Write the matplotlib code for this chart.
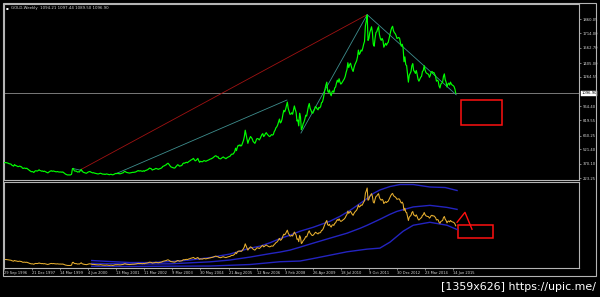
import numpy as np
import matplotlib
matplotlib.use("Agg")
import matplotlib.pyplot as plt
from matplotlib.patches import Rectangle
import matplotlib.transforms as mtransforms

# ---- data (bar index = week, one value every 2 bars) ----
BAR_STEP = 2
gold_close = [
    380, 381, 382, 380, 378, 374, 370, 368, 366, 355, 350, 345, 362, 352, 350, 345,
    340, 343, 346, 340, 338, 325, 322, 326, 324, 320, 324, 315, 310, 300, 296, 288,
    290, 287, 280, 292, 298, 296, 295, 300, 308, 300, 298, 293, 296, 290, 294, 289,
    285, 280, 276, 283, 290, 295, 298, 292, 296, 293, 290, 288, 287, 290, 286, 285,
    284, 286, 282, 286, 278, 272, 264, 260, 256, 254, 256, 254, 256, 262, 318, 322,
    300, 293, 296, 290, 284, 288, 285, 300, 312, 292, 286, 280, 278, 274, 272, 278,
    285, 288, 290, 284, 280, 276, 278, 274, 272, 270, 268, 265, 266, 270, 272, 268,
    265, 262, 264, 260, 262, 265, 263, 260, 257, 260, 262, 258, 256, 260, 264, 270,
    268, 272, 268, 270, 266, 268, 272, 275, 278, 288, 292, 284, 280, 278, 276, 274,
    276, 278, 280, 282, 281, 284, 285, 290, 296, 300, 294, 298, 296, 293, 292, 298,
    292, 300, 302, 306, 310, 318, 325, 322, 318, 305, 310, 312, 316, 322, 320, 316,
    312, 318, 320, 324, 330, 342, 346, 350, 356, 360, 370, 375, 365, 352, 340, 335,
    332, 330, 325, 328, 340, 350, 360, 355, 345, 348, 350, 356, 372, 378, 375, 382,
    385, 380, 388, 395, 400, 408, 412, 418, 425, 410, 400, 405, 415, 425, 400, 385,
    395, 392, 390, 396, 402, 400, 395, 400, 404, 408, 412, 418, 420, 425, 430, 438,
    445, 452, 450, 440, 442, 425, 422, 420, 428, 435, 440, 432, 428, 422, 430, 436,
    440, 445, 450, 465, 470, 468, 480, 495, 530, 505, 540, 560, 555, 565, 552, 560,
    585, 610, 650, 715, 670, 625, 580, 610, 630, 650, 640, 625, 600, 590, 580, 600,
    625, 630, 625, 615, 630, 650, 670, 680, 650, 660, 680, 690, 675, 665, 655, 650,
    660, 670, 665, 670, 700, 715, 740, 750, 770, 800, 830, 790, 800, 830, 880, 920,
    905, 930, 970, 1005, 940, 910, 880, 880, 895, 880, 920, 965, 930, 900, 810, 820,
    760, 890, 850, 720, 740, 780, 800, 830, 870, 860, 910, 960, 990, 940, 920, 895,
    890, 910, 930, 960, 950, 935, 925, 950, 945, 960, 1000, 1005, 1040, 1090, 1140, 1180,
    1210, 1120, 1105, 1130, 1090, 1070, 1110, 1120, 1105, 1150, 1160, 1200, 1230, 1210, 1245, 1210,
    1190, 1200, 1215, 1230, 1245, 1270, 1310, 1340, 1410, 1360, 1390, 1405, 1370, 1340, 1320, 1360,
    1390, 1410, 1430, 1470, 1540, 1495, 1510, 1540, 1530, 1560, 1600, 1630, 1790, 1840, 1900, 1640,
    1660, 1720, 1750, 1780, 1720, 1600, 1580, 1660, 1720, 1730, 1760, 1780, 1700, 1660, 1640, 1660,
    1640, 1570, 1590, 1610, 1590, 1610, 1620, 1660, 1700, 1740, 1770, 1785, 1740, 1720, 1710, 1690,
    1660, 1665, 1670, 1660, 1610, 1580, 1600, 1560, 1420, 1470, 1390, 1380, 1290, 1210, 1280, 1300,
    1320, 1380, 1400, 1330, 1320, 1300, 1330, 1290, 1240, 1220, 1240, 1260, 1270, 1320, 1330, 1380,
    1335, 1310, 1300, 1295, 1290, 1260, 1280, 1315, 1320, 1305, 1310, 1290, 1270, 1220, 1230, 1220,
    1170, 1150, 1190, 1200, 1210, 1270, 1295, 1235, 1210, 1160, 1190, 1200, 1180, 1210, 1190, 1180,
    1175, 1165, 1140, 1096.9,
]

# Bollinger bands in the lower window (bar index, price)
bb_upper_bar = [200, 242, 287, 333, 379, 424, 470, 515, 561, 584, 607, 629, 652, 675,
                705, 743, 766, 789, 812, 828, 842, 857, 880, 903, 933, 971, 1006, 1033]
bb_upper = [360, 338, 317, 317, 338, 370, 423, 497, 623, 665, 739, 824, 898, 982,
            1066, 1193, 1298, 1425, 1573, 1678, 1784, 1858, 1931, 1974, 1974, 1921, 1910, 1847]
bb_mid_bar = [200, 287, 379, 470, 515, 561, 607, 629, 652, 675, 705, 743, 782, 812,
              828, 857, 880, 896, 933, 971, 1010, 1033]
bb_mid = [300, 286, 290, 332, 370, 433, 507, 539, 581, 644, 729, 834, 940, 1045,
          1109, 1235, 1341, 1404, 1498, 1531, 1488, 1446]
bb_low_bar = [200, 287, 379, 470, 561, 629, 675, 705, 782, 828, 857, 880, 910, 933,
              971, 1010, 1033]
bb_low = [239, 233, 239, 243, 275, 334, 349, 402, 545, 602, 623, 750, 982, 1109,
          1172, 1109, 1018]

# trend lines drawn on the price window: (bar, price) end points
red_line = [(176, 312), (828, 1905)]
teal_lines = [[(156, 322), (178, 300)], [(257, 271), (645, 1026)],
              [(677, 686), (828, 1905)], [(828, 1905), (1031, 1080)]]
last_price = 1096.90

date_ticks = ["29 Sep 1996", "21 Dec 1997", "14 Mar 1999", "4 Jun 2000", "13 May 2001",
              "11 Mar 2002", "9 Mar 2003", "30 May 2004", "21 Aug 2005", "12 Nov 2006",
              "3 Feb 2008", "26 Apr 2009", "18 Jul 2010", "9 Oct 2011", "30 Dec 2012",
              "23 Mar 2014", "14 Jun 2015"]
TICK_EVERY = 64
price_ticks = [1860.05, 1714.00, 1562.70, 1405.00, 1264.55, 964.40, 819.55,
               660.25, 521.40, 370.10, 223.25]

# ---- style ----
BG = "black"; FRAME = "#b4b4b4"; TXT = "#d8d8d8"
GREEN = "#00ff00"; GOLDC = "#e8b030"; BLUE = "#2424c0"; RED = "#ff1010"
DARKRED = "#a01212"; TEAL = "#3e8e8e"
W, H = 600, 297
XMAX = 1311

fig = plt.figure(figsize=(W / 100, H / 100), dpi=100, facecolor=BG)


def px_axes(x0, y0, x1, y1):
    return fig.add_axes([x0 / W, 1 - y1 / H, (x1 - x0) / W, (y1 - y0) / H])


week = np.arange(len(gold_close)) * BAR_STEP

ax = px_axes(4, 4, 579, 180)
ax2 = px_axes(4, 181.5, 579, 268)
for a in (ax, ax2):
    a.set_facecolor(BG)
    a.set_xlim(0, XMAX)
    for s in a.spines.values():
        s.set_color(FRAME); s.set_linewidth(0.8)

# price window
ax.set_ylim(202.7, 2014.5)
ax.axhline(last_price, color="#8c8c8c", lw=0.6, zorder=1)
ax.plot(*zip(*red_line), color=DARKRED, lw=0.6, zorder=2)
for seg in teal_lines:
    ax.plot(*zip(*seg), color=TEAL, lw=0.6, zorder=2)
ax.plot(week, gold_close, color=GREEN, lw=0.85, zorder=3)
ax.add_patch(Rectangle((1042, 769), 94, 257, fill=False, ec=RED, lw=1.1))
ax.set_xticks([])
ax.yaxis.tick_right()
ax.set_yticks(price_ticks)
ax.set_yticklabels([f"{v:.2f}" for v in price_ticks])
ax.tick_params(axis="y", colors=TXT, labelsize=2.7, length=1.5, width=0.4, pad=1)
tr = mtransforms.blended_transform_factory(ax.transAxes, ax.transData)
ax.text(1.004, last_price, f"{last_price:.2f}", transform=tr, fontsize=2.7, color="black",
        va="center", ha="left",
        bbox=dict(boxstyle="square,pad=0.15", fc="white", ec="white", lw=0.3))

# lower window: price with 200-week Bollinger bands
ax2.set_ylim(201, 2038)
ax2.plot(bb_upper_bar, bb_upper, color=BLUE, lw=1.0)
ax2.plot(bb_mid_bar, bb_mid, color=BLUE, lw=1.0)
ax2.plot(bb_low_bar, bb_low, color=BLUE, lw=1.0)
ax2.plot(week, gold_close, color=GOLDC, lw=0.75)
ax2.add_patch(Rectangle((1035, 834), 80, 275, fill=False, ec=RED, lw=1.1))
ax2.plot([1033, 1051, 1067], [1172, 1383, 1024], color=RED, lw=1.0)
ax2.set_yticks([])
ax2.set_xticks(np.arange(len(date_ticks)) * TICK_EVERY)
ax2.set_xticklabels(date_ticks, ha="left")
ax2.tick_params(axis="x", colors=TXT, labelsize=2.6, length=1.5, width=0.4, pad=0.6)

# title, frame, watermark
fig.text(11 / W, 1 - 8 / H, "GOLD,Weekly  1094.21 1097.44 1089.50 1096.90",
         fontsize=2.8, color=TXT, va="center")
fig.text(7 / W, 1 - 8 / H, "\u25aa", fontsize=3, color="white", va="center", ha="center")
fig.patches.append(Rectangle((3 / W, 1 - 276 / H), 593 / W, 273 / H, fill=False,
                             ec=FRAME, lw=0.8, transform=fig.transFigure))
fig.text(596 / W, 1 - 287 / H, "[1359x626] https://upic.me/", fontsize=7.9,
         color="white", ha="right", va="center")

fig.savefig("out.png", dpi=100, facecolor=BG)
